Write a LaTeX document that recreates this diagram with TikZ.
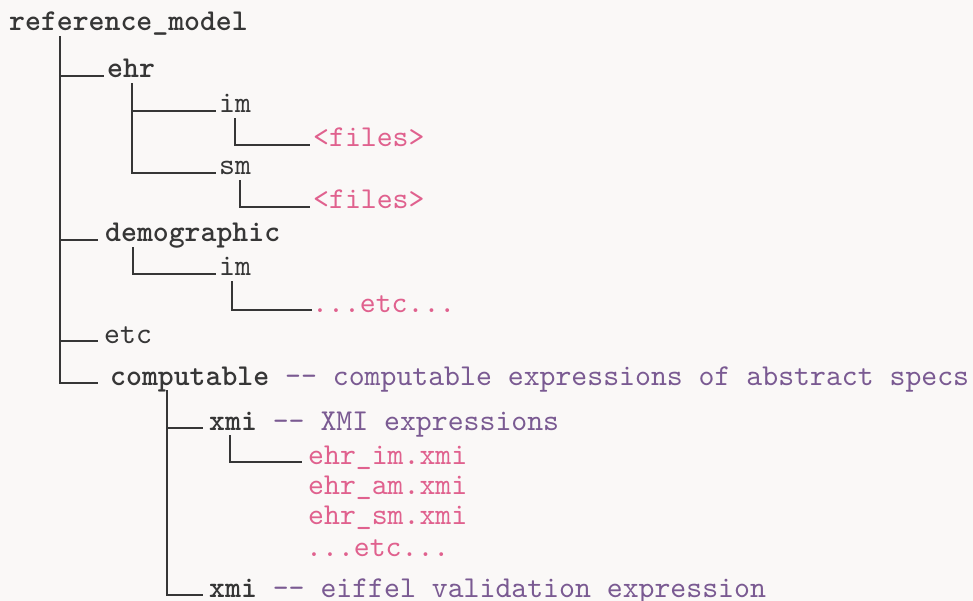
\documentclass[tikz,border=0pt]{standalone}
\usepackage{fontspec}
% Latin Modern Mono at its 10pt design for both weights
\newfontfamily\treett{lmmono10-regular}[Extension=.otf, BoldFont=lmmonolt10-bold]
\definecolor{ink}{HTML}{363636}
\definecolor{leafpink}{HTML}{E0618E}
\definecolor{notepurple}{HTML}{7A5A92}
\definecolor{paper}{HTML}{FAF8F7}
% two hyphens kept apart so they never join into a dash
\newcommand{\dashdash}{\hbox{-}\hbox{-}}
% monospaced text whose spaces are one full character cell wide
\newcommand{\treefont}{\treett\fontsize{30.3}{34}\selectfont
  \spaceskip=15.9pt\relax\xspaceskip=15.9pt\relax}
\begin{document}
\begin{tikzpicture}[x=1pt,y=-1pt,
  every node/.style={anchor=base west, inner xsep=3pt, inner ysep=5pt,
    text depth=0pt, font=\treefont, text=ink},
  dirname/.style={font=\treefont\bfseries},
  leaf/.style={text=leafpink},
  branch/.style={draw=ink, line width=2pt}]
  \fill[paper] (0,0) rectangle (973,601);
  \useasboundingbox (0,0) rectangle (973,601);

  % tree entries
  \node[dirname] (root) at (6,31) {reference\_model};
  \node[dirname] (ehr) at (104,78) {ehr};
  \node (ehrim) at (216,113) {im};
  \node[leaf] (filesa) at (310,147) {<files>};
  \node (ehrsm) at (216,175) {sm};
  \node[leaf] (filesb) at (310,209) {<files>};
  \node[dirname, inner xsep=7pt] (demo) at (98,242) {demographic};
  \node (demoim) at (216,276) {im};
  \node[leaf, inner xsep=0pt] (etcdots) at (312,312) {...etc...};
  \node[inner xsep=6pt] (etc) at (98,343) {etc};
  \node[inner xsep=12pt] (comp) at (98,385)
    {\textbf{computable} \textcolor{notepurple}{\dashdash{} computable expressions of abstract specs}};
  \node[inner xsep=6pt] (xmia) at (203,430)
    {\textbf{xmi} \textcolor{notepurple}{\dashdash{} XMI expressions}};
  \node[leaf, inner xsep=6pt] (xa) at (302,464) {ehr\_im.xmi};
  \node[leaf, inner xsep=6pt] (xb) at (302,494) {ehr\_am.xmi};
  \node[leaf, inner xsep=6pt] (xc) at (302,524) {ehr\_sm.xmi};
  \node[leaf, inner xsep=4pt] (xd) at (302,556) {...etc...};
  \node[inner xsep=6pt] (xmib) at (203,597)
    {\textbf{xmi} \textcolor{notepurple}{\dashdash{} eiffel validation expression}};

  % branches
  \draw[branch] ([xshift=54pt]root.south west) |- (ehr.mid west);
  \draw[branch] ([xshift=54pt]root.south west) |- (demo.mid west);
  \draw[branch] ([xshift=54pt]root.south west) |- (etc.mid west);
  \draw[branch] ([xshift=54pt]root.south west) |- (comp.mid west);

  \draw[branch] ([xshift=28pt]ehr.south west) |- (ehrim.mid west);
  \draw[branch] ([xshift=28pt]ehr.south west) |- (ehrsm.mid west);
  \draw[branch] ([xshift=19pt]ehrim.south west) |- (filesa.mid west);
  \draw[branch] ([xshift=24pt]ehrsm.south west) |- (filesb.mid west);

  \draw[branch] ([xshift=35pt]demo.south west) |- (demoim.mid west);
  \draw[branch] ([xshift=16pt]demoim.south west) |- (etcdots.mid west);

  \draw[branch] ([xshift=69pt]comp.south west) |- (xmia.mid west);
  \draw[branch] ([xshift=69pt]comp.south west) |- (xmib.mid west);
  \draw[branch] ([xshift=27pt]xmia.south west) |- (xa.mid west);
\end{tikzpicture}
\end{document}
